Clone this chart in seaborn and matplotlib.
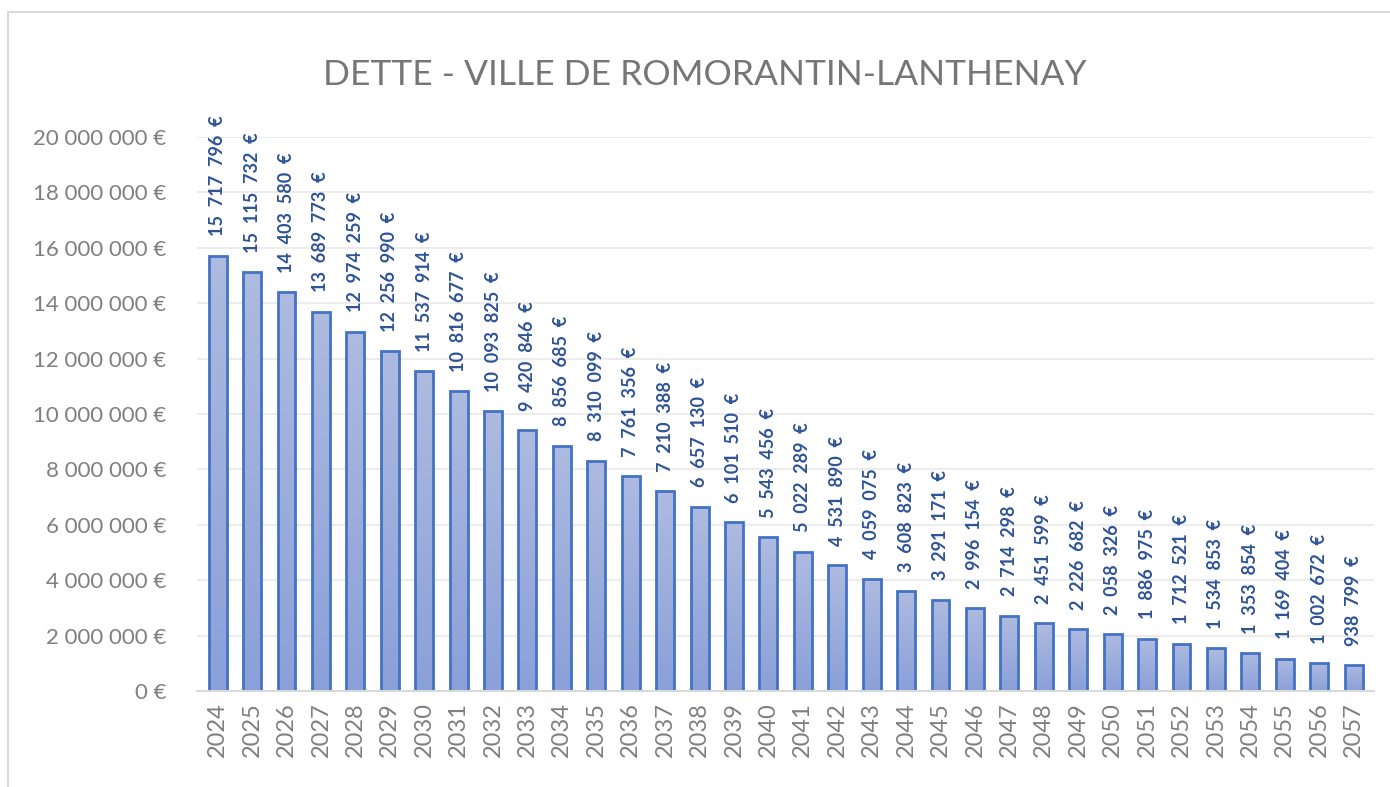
import matplotlib
matplotlib.use("Agg")
import matplotlib.pyplot as plt
import seaborn as sns
import numpy as np
import pandas as pd
from matplotlib.patches import Rectangle
from matplotlib.colors import LinearSegmentedColormap

years = [str(y) for y in range(2024, 2058)]
dette = [15717796, 15115732, 14403580, 13689773, 12974259, 12256990, 11537914,
         10816677, 10093825, 9420846, 8856685, 8310099, 7761356, 7210388,
         6657130, 6101510, 5543456, 5022289, 4531890, 4059075, 3608823,
         3291171, 2996154, 2714298, 2451599, 2226682, 2058326, 1886975,
         1712521, 1534853, 1353854, 1169404, 1002672, 938799]
yticks = list(range(0, 20000001, 2000000))
title = "DETTE - VILLE DE ROMORANTIN-LANTHENAY"

def fmt(v, sep=" "):
    return f"{v:,}".replace(",", sep) + sep + "€"

sns.set_theme(style="white")
plt.rcParams['font.family'] = ['Lato', 'DejaVu Sans']

df = pd.DataFrame({"annee": years, "dette": dette})

fig = plt.figure(figsize=(13.9, 7.87), dpi=100)
ax = fig.add_axes([0.1417, 0.122, 0.847, 0.704])

sns.barplot(data=df, x="annee", y="dette", ax=ax, color="#98abdc",
            width=0.52, edgecolor="#4472c4", linewidth=2)

# gradient fill
grad = np.linspace(0, 1, 256).reshape(-1, 1)
cmap = LinearSegmentedColormap.from_list("g", ["#8aa0d8", "#aebbe0"])
for p in ax.patches:
    x0, y0 = p.get_x(), p.get_y()
    w, h = p.get_width(), p.get_height()
    im = ax.imshow(grad, extent=[x0, x0 + w, y0, y0 + h], origin="lower",
                   cmap=cmap, aspect="auto", zorder=p.get_zorder() + 0.1)
    im.set_clip_path(p)
    p.set_facecolor("none")
    p.set_zorder(p.get_zorder() + 0.2)
ax.set_ylim(0, 20000000)
ax.set_xlim(-0.6, len(years) - 0.4)

for i, v in enumerate(dette):
    ax.annotate(fmt(v, "  "), xy=(i, v), xytext=(0, 14), textcoords="offset points",
                rotation=90, ha="center", va="bottom", fontsize=13,
                fontweight="bold", color="#2f5496", annotation_clip=False)

ax.set_yticks(yticks)
ax.set_yticklabels([fmt(t) for t in yticks])
ax.tick_params(axis="y", labelsize=16, labelcolor="#7f7f7f", length=0, pad=22)
ax.tick_params(axis="x", labelsize=17, labelcolor="#7f7f7f", length=0, pad=8,
               labelrotation=90)
ax.set_xlabel("")
ax.set_ylabel("")
ax.grid(axis="y", color="#e9e9e9", linewidth=1.2)
ax.set_axisbelow(True)
for s in ["top", "right", "left"]:
    ax.spines[s].set_visible(False)
ax.spines["bottom"].set_color("#d9d9d9")
ax.spines["bottom"].set_linewidth(1.5)

fig.text(0.507, 0.905, title, ha="center", va="center", fontsize=25.5,
         color="#767676")

fig.patches.append(Rectangle((8 / 1390, -0.1), 1.2, (787 - 12) / 787 + 0.1,
                             transform=fig.transFigure, fill=False,
                             edgecolor="#d9d9d9", linewidth=1.5))

fig.savefig("out.png", dpi=100)
